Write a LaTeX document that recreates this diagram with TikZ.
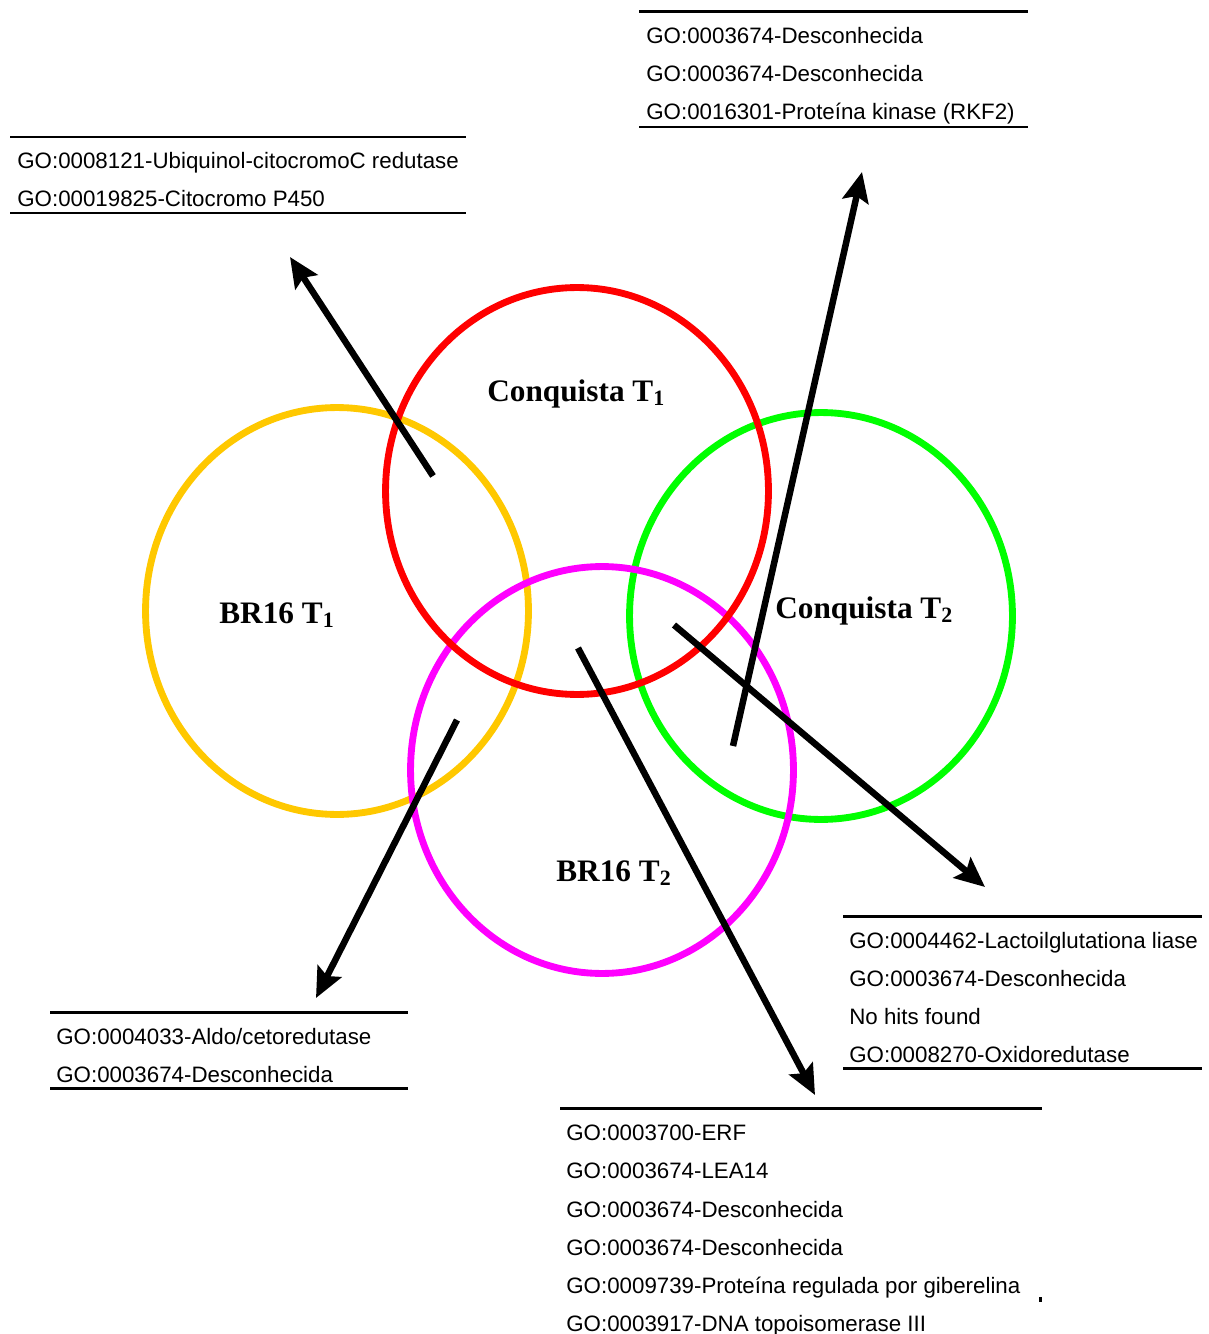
\documentclass[tikz,border=0pt]{standalone}
\usepackage{fontspec}
\setmainfont{Liberation Sans}
\newfontfamily\lblfont{Liberation Serif}
\usetikzlibrary{arrows.meta,shapes.geometric}
\definecolor{cred}{RGB}{255,0,0}
\definecolor{corange}{RGB}{255,200,0}
\definecolor{cgreen}{RGB}{0,255,0}
\definecolor{cmag}{RGB}{255,0,255}
\tikzset{
  setring/.style={ellipse, draw=#1, line width=3.9pt, minimum width=7.66cm, minimum height=8.14cm, inner sep=0pt},
  setlabel/.style={anchor=base west, inner sep=0pt, font=\lblfont\bfseries\fontsize{17.8pt}{20pt}\selectfont},
  goline/.style={anchor=base west, inner sep=0pt, font=\fontsize{12.7pt}{15pt}\selectfont},
  rule/.style={line width=1.7pt},
  bigarrow/.style={line width=3.7pt, -{Stealth[length=17pt, width=15pt, inset=3pt]}}
}
\begin{document}
\begin{tikzpicture}[x=0.02cm, y=-0.02cm]
\useasboundingbox (0,0) rectangle (1209,1334);
% circles
\node[setring=corange] (or) at (337,611) {};
\node[setring=cgreen] (gr) at (821,616) {};
\node[setring=cmag] (mg) at (602,770) {};
\node[setring=cred] (rd) at (577,491) {};
% labels
\node[setlabel] (l1) at (487,401) {Conquista T\textsubscript{1}};
\node[setlabel] (l2) at (219,623) {BR16 T\textsubscript{1}};
\node[setlabel] (l3) at (775,618) {Conquista T\textsubscript{2}};
\node[setlabel] (l4) at (556,881) {BR16 T\textsubscript{2}};
% text block: top right
\coordinate (trA) at (639,12); \coordinate (trB) at (1028,12);
\coordinate (trC) at (639,127); \coordinate (trD) at (1028,127);
\draw[rule] (trA) -- (trB); \draw[rule] (trC) -- (trD);
\node[goline] (tr1) at (646,44) {GO:0003674-Desconhecida};
\node[goline] (tr2) at (646,82) {GO:0003674-Desconhecida};
\node[goline] (tr3) at (646,120) {GO:0016301-Proteína kinase (RKF2)};
% text block: top left
\coordinate (tlA) at (10,137); \coordinate (tlB) at (466,137);
\coordinate (tlC) at (10,213); \coordinate (tlD) at (466,213);
\draw[rule] (tlA) -- (tlB); \draw[rule] (tlC) -- (tlD);
\node[goline] (tl1) at (17,169) {GO:0008121-Ubiquinol-citocromoC redutase};
\node[goline] (tl2) at (17,207) {GO:00019825-Citocromo P450};
% text block: right middle
\coordinate (rmA) at (843,916); \coordinate (rmB) at (1202,916);
\coordinate (rmC) at (843,1068); \coordinate (rmD) at (1202,1068);
\draw[rule] (rmA) -- (rmB); \draw[rule] (rmC) -- (rmD);
\node[goline] (rm1) at (849,948) {GO:0004462-Lactoilglutationa liase};
\node[goline] (rm2) at (849,986) {GO:0003674-Desconhecida};
\node[goline] (rm3) at (849,1024) {No hits found};
\node[goline] (rm4) at (849,1062) {GO:0008270-Oxidoredutase};
% text block: bottom left
\coordinate (blA) at (50,1012); \coordinate (blB) at (408,1012);
\coordinate (blC) at (50,1088); \coordinate (blD) at (408,1088);
\draw[rule] (blA) -- (blB); \draw[rule] (blC) -- (blD);
\node[goline] (bl1) at (56,1044) {GO:0004033-Aldo/cetoredutase};
\node[goline] (bl2) at (56,1082) {GO:0003674-Desconhecida};
% text block: bottom
\coordinate (bmA) at (560,1108); \coordinate (bmB) at (1042,1108);
\draw[rule] (bmA) -- (bmB);
\node[goline] (bm1) at (566,1140) {GO:0003700-ERF};
\node[goline] (bm2) at (566,1178) {GO:0003674-LEA14};
\node[goline] (bm3) at (566,1217) {GO:0003674-Desconhecida};
\node[goline] (bm4) at (566,1255) {GO:0003674-Desconhecida};
\node[goline] (bm5) at (566,1293) {GO:0009739-Proteína regulada por giberelina};
\node[goline] (bm6) at (566,1331) {GO:0003917-DNA topoisomerase III};
\fill (1039,1297) rectangle (1042,1302);
% arrows
\coordinate (a1s) at (433,476); \coordinate (a1e) at (290,257);
\coordinate (a2s) at (733,746); \coordinate (a2e) at (862,172);
\coordinate (a3s) at (674,625); \coordinate (a3e) at (985,887);
\coordinate (a4s) at (578,648); \coordinate (a4e) at (815,1095);
\coordinate (a5s) at (457,720); \coordinate (a5e) at (316,998);
\draw[bigarrow] (a1s) -- (a1e);
\draw[bigarrow] (a2s) -- (a2e);
\draw[bigarrow] (a3s) -- (a3e);
\draw[bigarrow] (a4s) -- (a4e);
\draw[bigarrow] (a5s) -- (a5e);
\end{tikzpicture}
\end{document}
